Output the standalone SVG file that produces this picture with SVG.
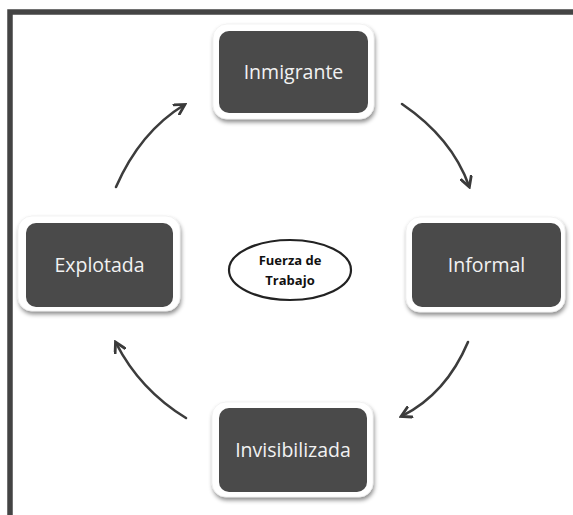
<svg xmlns="http://www.w3.org/2000/svg" width="573" height="515" viewBox="0 0 573 515">
<defs>
<filter id="sh" x="-20%" y="-20%" width="140%" height="150%">
<feDropShadow dx="1" dy="3" stdDeviation="2" flood-color="#000" flood-opacity="0.45"/>
</filter>
<marker id="ah" viewBox="0 0 12 12" refX="9" refY="6" markerWidth="13" markerHeight="13" markerUnits="userSpaceOnUse" orient="auto">
<path d="M1 1 L10 6 L1 11" fill="none" stroke="#3a3a3a" stroke-width="2.6" stroke-linecap="round" stroke-linejoin="miter"/>
</marker>
</defs>
<style>
.outer{fill:#fff;stroke:#e6e6e6;stroke-width:0.5;filter:url(#sh)}
.inner{fill:#4a4a4a}
.lbl{font-family:"Open Sans","Noto Sans",sans-serif;font-size:19.5px;fill:#f2f2f2;text-anchor:middle}
.conn{fill:none;stroke:#3c3c3c;stroke-width:2.6;stroke-linecap:round;marker-end:url(#ah)}
.ctr{font-family:"Open Sans","Noto Sans",sans-serif;font-size:13px;font-weight:bold;fill:#111;text-anchor:middle}
</style>
<rect width="573" height="515" fill="#fff"/>
<path d="M10 515 L10 12 L573 12" fill="none" stroke="#444" stroke-width="5.5"/>
<g id="inmigrante">
<rect class="outer" x="213" y="24" width="161" height="95" rx="14"/>
<rect class="inner" x="219" y="31" width="149" height="82" rx="10"/>
<text class="lbl" x="293.5" y="79">Inmigrante</text>
</g>
<g id="informal">
<rect class="outer" x="406" y="217" width="159" height="95" rx="14"/>
<rect class="inner" x="412" y="223" width="149" height="84" rx="10"/>
<text class="lbl" x="486.5" y="272">Informal</text>
</g>
<g id="invisibilizada">
<rect class="outer" x="212" y="402" width="161" height="95" rx="14"/>
<rect class="inner" x="219" y="408" width="148" height="84" rx="10"/>
<text class="lbl" x="293" y="456.5">Invisibilizada</text>
</g>
<g id="explotada">
<rect class="outer" x="18" y="216" width="162" height="95" rx="14"/>
<rect class="inner" x="26" y="223" width="147" height="84" rx="10"/>
<text class="lbl" x="99.5" y="272">Explotada</text>
</g>
<g id="fuerza">
<ellipse cx="290" cy="270" rx="61" ry="30" fill="#fff" stroke="#222" stroke-width="2.2"/>
<text class="ctr" x="290" y="265">Fuerza de</text>
<text class="ctr" x="290" y="285">Trabajo</text>
</g>
<g id="connectors">
<path class="conn" d="M116 187 Q140 132 184 105"/>
<path class="conn" d="M402 104 Q452 138 469 186"/>
<path class="conn" d="M468 342 Q446 394 402 416"/>
<path class="conn" d="M186 418 Q140 390 116 343"/>
</g>
</svg>
